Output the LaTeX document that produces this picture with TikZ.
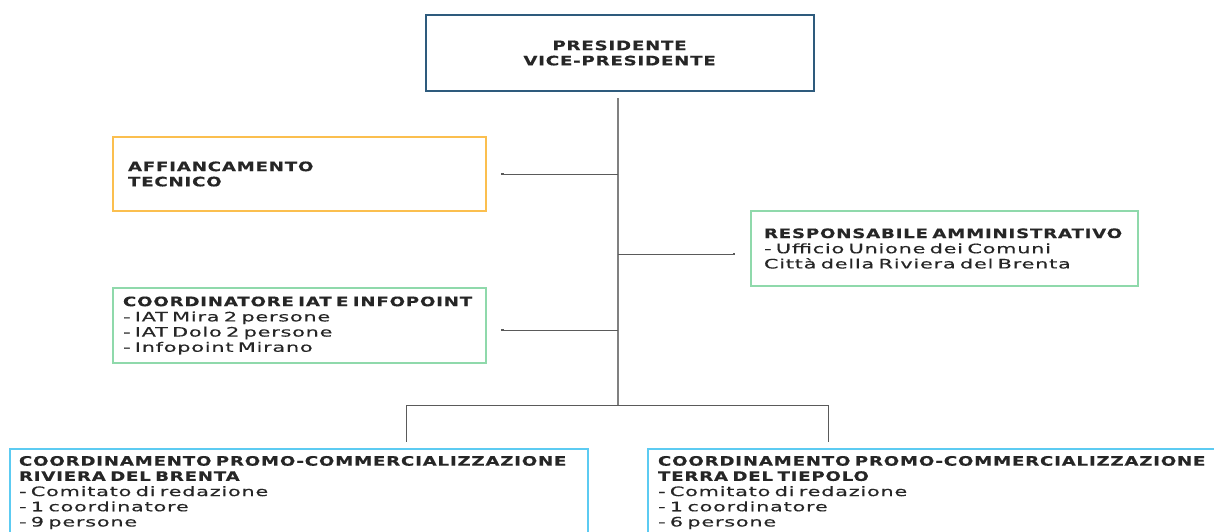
\documentclass[tikz,border=0pt]{standalone}
\usepackage{fontspec}
\setmainfont{DejaVu Sans}[FakeStretch=1.6, LetterSpace=6, FakeBold=0.4, WordSpace=1.6,
  BoldFeatures={FakeStretch=1.4, LetterSpace=6}]
\usetikzlibrary{positioning,arrows.meta}
\hyphenpenalty=10000

\definecolor{presblue}{HTML}{2E5B7D}
\definecolor{techorange}{HTML}{FBBF4F}
\definecolor{officegreen}{HTML}{8FD9AB}
\definecolor{promoblue}{HTML}{5CCBF2}
\definecolor{linegray}{HTML}{5A5A5A}
\definecolor{spinegray}{HTML}{808080}
\definecolor{inkgray}{HTML}{262626}

\begin{document}
\begin{tikzpicture}[x=1pt,y=-1pt,
  box/.style={draw, line width=2pt, inner ysep=0pt, align=left,
    anchor=north west, text=inkgray, font=\fontsize{13}{15.2}\selectfont},
  link/.style={draw=linegray, line width=1pt},
  dot/.tip={Square[length=2.5pt,width=2.5pt]},
  spine/.style={draw=spinegray, line width=2pt}]

  \useasboundingbox (0,0) rectangle (1214,531);

  %% top box
  \node[box, draw=presblue, align=center, inner xsep=0pt,
    text width=388, minimum height=76] (pres) at (425,14)
    {\textbf{PRESIDENTE}\\\textbf{VICE-PRESIDENTE}};

  %% side boxes
  \node[box, draw=techorange, inner xsep=15pt, text width=343,
    minimum height=74] (tecnico) at (112,136)
    {\textbf{AFFIANCAMENTO}\\\textbf{TECNICO}};
  \node[box, draw=officegreen, inner xsep=13pt, text width=361,
    minimum height=75] (ammin) at (750,210)
    {\textbf{RESPONSABILE AMMINISTRATIVO}\\- Ufficio Unione dei Comuni\\Città della Riviera del Brenta};
  \node[box, draw=officegreen, inner xsep=10pt, text width=353,
    minimum height=75] (iat) at (112,287)
    {\textbf{COORDINATORE IAT E INFOPOINT}\\- IAT Mira 2 persone\\- IAT Dolo 2 persone\\- Infopoint Mirano};

  %% bottom boxes
  \node[box, draw=promoblue, inner xsep=9pt, inner ysep=7pt, text width=560] (riviera) at (9,448)
    {\textbf{COORDINAMENTO PROMO-COMMERCIALIZZAZIONE}\\\textbf{RIVIERA DEL BRENTA}\\- Comitato di redazione\\- 1 coordinatore\\- 9 persone};
  \node[box, draw=promoblue, inner xsep=10pt, inner ysep=7pt, text width=560] (tiepolo) at (647,448)
    {\textbf{COORDINAMENTO PROMO-COMMERCIALIZZAZIONE}\\\textbf{TERRA DEL TIEPOLO}\\- Comitato di redazione\\- 1 coordinatore\\- 6 persone};

  \coordinate (top) at (618,98);
  \coordinate (hub) at (618,405);
  \coordinate (dropL) at (406,442);
  \coordinate (dropR) at (828,442);

  %% connectors
  \draw[spine] (top) -- (hub);
  \draw[link, dot-, shorten <=14pt] (tecnico.east) -- (tecnico.east -| top);
  \draw[link, dot-, shorten <=14pt] ([yshift=-4.5pt]iat.east) -- ([yshift=-4.5pt]iat.east -| top);
  \draw[link, -dot, shorten >=15pt] ([yshift=-5.5pt]ammin.west -| top) -- ([yshift=-5.5pt]ammin.west);
  \draw[link] (hub) -| (dropL);
  \draw[link] (hub) -| (dropR);

\end{tikzpicture}
\end{document}
